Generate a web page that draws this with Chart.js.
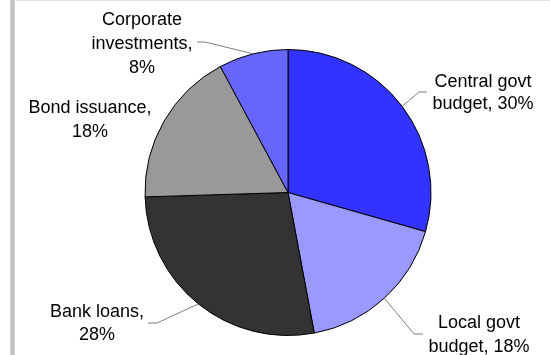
<!DOCTYPE html>
<html>
<head>
<meta charset="utf-8">
<script src="https://cdn.jsdelivr.net/npm/chart.js@4"></script>
<style>
  html, body { margin: 0; padding: 0; background: #fff; }
  #wrap { position: relative; width: 550px; height: 355px; }
</style>
</head>
<body>
<div id="wrap"><canvas id="c" width="550" height="355"></canvas></div>
<script>
// Funding sources, shares in percent
const categories = ['Central govt budget', 'Local govt budget', 'Bank loans', 'Bond issuance', 'Corporate investments'];
const shares = [30, 18, 28, 18, 8];
const labelLines = [
  ['Central govt', 'budget, 30%'],
  ['Local govt', 'budget, 18%'],
  ['Bank loans,', '28%'],
  ['Bond issuance,', '18%'],
  ['Corporate', 'investments,', '8%']
];
const sliceColors = ['#3333ff', '#9999ff', '#333333', '#999999', '#6666ff'];

// Where each label block sits and how its leader line bends (null = no leader)
const labelLayout = [
  { x: 483, y: 87,  lh: 22, leader: { elbow: [419, 92],  end: [427, 92] } },
  { x: 479, y: 328, lh: 24, leader: { elbow: [414, 334], end: [423, 334] } },
  { x: 97,  y: 317, lh: 23, leader: { elbow: [157, 323], end: [148, 323] } },
  { x: 90,  y: 113, lh: 24, leader: null },
  { x: 142, y: 25,  lh: 24, leader: { elbow: [205, 42],  end: [197, 42] } }
];

const framePlugin = {
  id: 'frame',
  beforeDraw(chart) {
    const ctx = chart.ctx;
    ctx.save();
    ctx.fillStyle = '#d6d6d6';
    ctx.fillRect(10, 0, 5, chart.height);
    ctx.fillStyle = '#c2c2c2';
    ctx.fillRect(11, 0, 3, chart.height);
    ctx.fillStyle = '#e2e2e2';
    ctx.fillRect(15, 0, chart.width - 15, 1);
    ctx.restore();
  }
};

const sliceLabels = {
  id: 'sliceLabels',
  afterDatasetsDraw(chart) {
    const ctx = chart.ctx;
    const arcs = chart.getDatasetMeta(0).data;
    ctx.save();
    arcs.forEach((arc, i) => {
      const p = arc.getProps(['x', 'y', 'startAngle', 'endAngle', 'outerRadius'], true);
      const mid = (p.startAngle + p.endAngle) / 2;
      const ax = p.x + Math.cos(mid) * p.outerRadius;
      const ay = p.y + Math.sin(mid) * p.outerRadius;
      const lay = labelLayout[i];
      if (lay.leader) {
        ctx.beginPath();
        ctx.strokeStyle = '#7f7f7f';
        ctx.lineWidth = 1;
        ctx.moveTo(ax, ay);
        ctx.lineTo(lay.leader.elbow[0], lay.leader.elbow[1]);
        ctx.lineTo(lay.leader.end[0], lay.leader.end[1]);
        ctx.stroke();
      }
      ctx.fillStyle = '#000';
      ctx.font = '18px "Liberation Sans", Arial, sans-serif';
      ctx.textAlign = 'center';
      ctx.textBaseline = 'alphabetic';
      labelLines[i].forEach((t, k) => ctx.fillText(t, lay.x, lay.y + k * lay.lh));
    });
    ctx.restore();
  }
};

new Chart(document.getElementById('c'), {
  type: 'pie',
  data: {
    labels: categories,
    datasets: [{
      data: shares,
      backgroundColor: sliceColors,
      borderColor: '#000',
      borderWidth: 1
    }]
  },
  options: {
    responsive: false,
    animation: false,
    radius: 143,
    layout: { padding: { left: 26, top: 30, right: 0, bottom: 0 } },
    plugins: {
      legend: { display: false },
      tooltip: { enabled: false }
    }
  },
  plugins: [framePlugin, sliceLabels]
});
</script>
</body>
</html>
